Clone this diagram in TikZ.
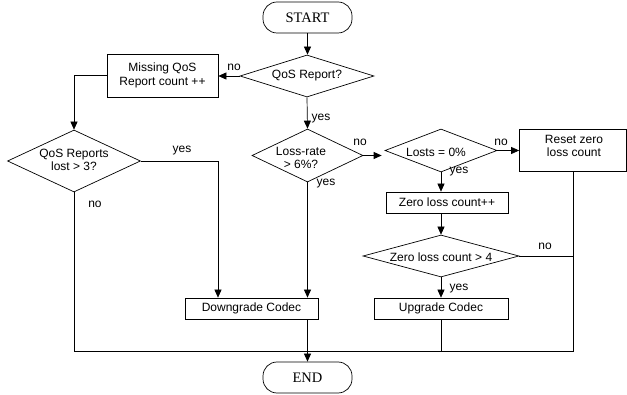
\documentclass[tikz,border=0pt]{standalone}
\usepackage{fontspec}
\setmainfont{Liberation Sans}
\newfontfamily\serifx{Liberation Serif}
\usetikzlibrary{shapes.geometric,arrows.meta}
\begin{document}
\begin{tikzpicture}[x=1pt,y=-1pt,line width=0.7pt,
  every node/.style={font=\fontsize{12}{13.5}\selectfont},
  term/.style={draw,rounded corners=14pt,minimum width=89pt,minimum height=31pt,inner sep=0pt,font=\serifx\fontsize{14.5}{16}\selectfont},
  box/.style={draw,rectangle,inner sep=0pt,align=center},
  dia/.style={draw,diamond,inner sep=0pt},
  lbl/.style={inner sep=0pt,align=center},
  arr/.style={-{Triangle[length=8pt,width=7pt]}}]
\useasboundingbox (0,0) rectangle (627,395);
\node[term] (start) at (307.5,17.5) {START};
\node[dia,minimum width=134pt,minimum height=42pt] (q1) at (307,76) {};
\node[lbl] (q1t) at (307,76) {QoS Report?};
\node[box,minimum width=111pt,minimum height=43pt] (miss) at (162.5,75.5) {Missing QoS\\Report count ++};
\node[dia,minimum width=133pt,minimum height=62pt] (qlost) at (74,161) {};
\node[lbl] (qlostt) at (74,160) {QoS Reports\\lost > 3?};
\node[dia,minimum width=111pt,minimum height=53pt] (loss) at (307.5,155.5) {};
\node[lbl] (losst) at (301,158) {Loss-rate\\> 6\%?};
\node[dia,minimum width=112pt,minimum height=43pt] (losts) at (441,150.5) {};
\node[lbl] (lostst) at (436,152) {Losts = 0\%};
\node[box,minimum width=107pt,minimum height=42pt] (reset) at (573,150) {};
\node[lbl] (resett) at (574,146) {Reset zero\\loss count};
\node[box,minimum width=122pt,minimum height=21pt] (zinc) at (447,202.5) {Zero loss count++};
\node[dia,minimum width=156pt,minimum height=42pt] (z4) at (441,256) {};
\node[lbl] (z4t) at (441,257) {Zero loss count > 4};
\node[box,minimum width=134pt,minimum height=21pt] (up) at (441,308.5) {Upgrade Codec};
\node[box,minimum width=133pt,minimum height=21pt] (down) at (251.5,308.5) {Downgrade Codec};
\node[term] (end) at (307.5,377.5) {END};
% labels
\node[lbl] (l1) at (234,67) {no};
\node[lbl] (l2) at (321,119) {yes};
\node[lbl] (l3) at (182,151) {yes};
\node[lbl] (l4) at (95,204) {no};
\node[lbl] (l5) at (360,142) {no};
\node[lbl] (l6) at (326,184) {yes};
\node[lbl] (l7) at (501,142) {no};
\node[lbl] (l8) at (459,172) {yes};
\node[lbl] (l9) at (545,246) {no};
\node[lbl] (l10) at (459,289) {yes};
% connectors
\draw[arr] (start.south) -- (start.south |- q1.north);
\draw[arr] (q1.west) -- (q1.west -| miss.east);
\draw[arr] (miss.west) -| (qlost.north);
\draw[arr] (qlost.east) -| ([xshift=-33.5pt]down.north);
\draw[arr] (q1.south) -- (loss.north);
\draw[arr] (loss.south) -- (loss.south |- down.north);
\draw[arr] (loss.east) -- ([xshift=-3pt]loss.east -| losts.west);
\draw[arr] (losts.east) -- (losts.east -| reset.west);
\draw[arr] (losts.south) -- (losts.south |- zinc.north);
\draw[arr] (zinc.south -| z4.north) -- (z4.north);
\draw (z4.east) -- (z4.east -| reset.south);
\draw[arr] (z4.south) -- (up.north);
\coordinate (merge) at (307.5,351);
\draw (qlost.south) |- (merge);
\draw (reset.south) |- (merge);
\draw (up.south) -- (up.south |- merge);
\draw[arr] (end.north |- down.south) -- (end.north);
\end{tikzpicture}
\end{document}
